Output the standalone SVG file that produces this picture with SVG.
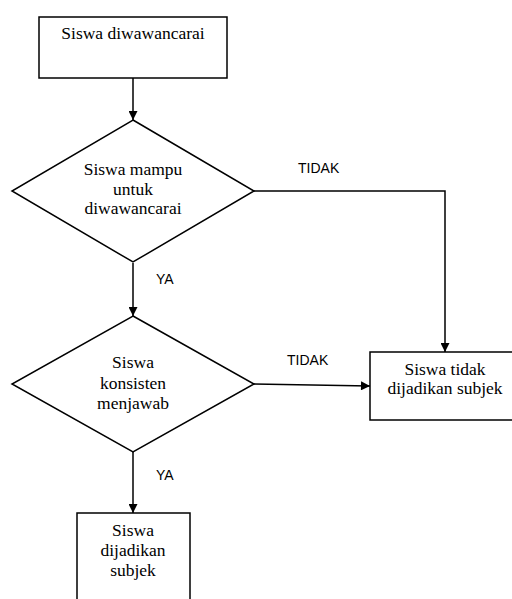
<svg xmlns="http://www.w3.org/2000/svg" width="512" height="599" viewBox="0 0 512 599">
<style>
.shape{fill:#fff;stroke:#000;stroke-width:1.5}
.t{font-family:"Liberation Serif","Times New Roman",serif;font-size:17.5px;fill:#000;text-anchor:middle}
.l{font-family:"Liberation Sans",Arial,sans-serif;font-size:14px;fill:#000}
.c{fill:none;stroke:#000;stroke-width:1.5}
</style>
<defs>
<marker id="ah" viewBox="0 0 10 10" refX="10" refY="5" markerWidth="10" markerHeight="9" markerUnits="userSpaceOnUse" orient="auto">
<path d="M0,0 L10,5 L0,10 Z" fill="#000"/>
</marker>
</defs>
<rect width="512" height="599" fill="#fff"/>
<g id="connectors">
<path class="c" d="M133,78 V120" marker-end="url(#ah)"/>
<path class="c" d="M254,191 H445 V352" marker-end="url(#ah)"/>
<path class="c" d="M133,263 V316" marker-end="url(#ah)"/>
<path class="c" d="M254,384 L370,386" marker-end="url(#ah)"/>
<path class="c" d="M133,452 V513" marker-end="url(#ah)"/>
<text class="l" x="298" y="173">TIDAK</text>
<text class="l" x="156" y="284">YA</text>
<text class="l" x="287" y="365">TIDAK</text>
<text class="l" x="156" y="480">YA</text>
</g>
<g id="start">
<rect class="shape" x="39" y="17" width="188" height="61"/>
<text class="t" x="133" y="39">Siswa diwawancarai</text>
</g>
<g id="decision1">
<polygon class="shape" points="133,120 254,191 133,262 12,191"/>
<text class="t" x="133" y="175">Siswa mampu</text>
<text class="t" x="133" y="195">untuk</text>
<text class="t" x="133" y="214">diwawancarai</text>
</g>
<g id="decision2">
<polygon class="shape" points="133,316 254,384 133,452 12,384"/>
<text class="t" x="133" y="368">Siswa</text>
<text class="t" x="133" y="389">konsisten</text>
<text class="t" x="133" y="409">menjawab</text>
</g>
<g id="reject">
<rect class="shape" x="370" y="352" width="150" height="68"/>
<text class="t" x="445" y="375">Siswa tidak</text>
<text class="t" x="445" y="394">dijadikan subjek</text>
</g>
<g id="accept">
<rect class="shape" x="77" y="513" width="113" height="100"/>
<text class="t" x="133" y="536">Siswa</text>
<text class="t" x="133" y="556">dijadikan</text>
<text class="t" x="133" y="576">subjek</text>
</g>
</svg>
